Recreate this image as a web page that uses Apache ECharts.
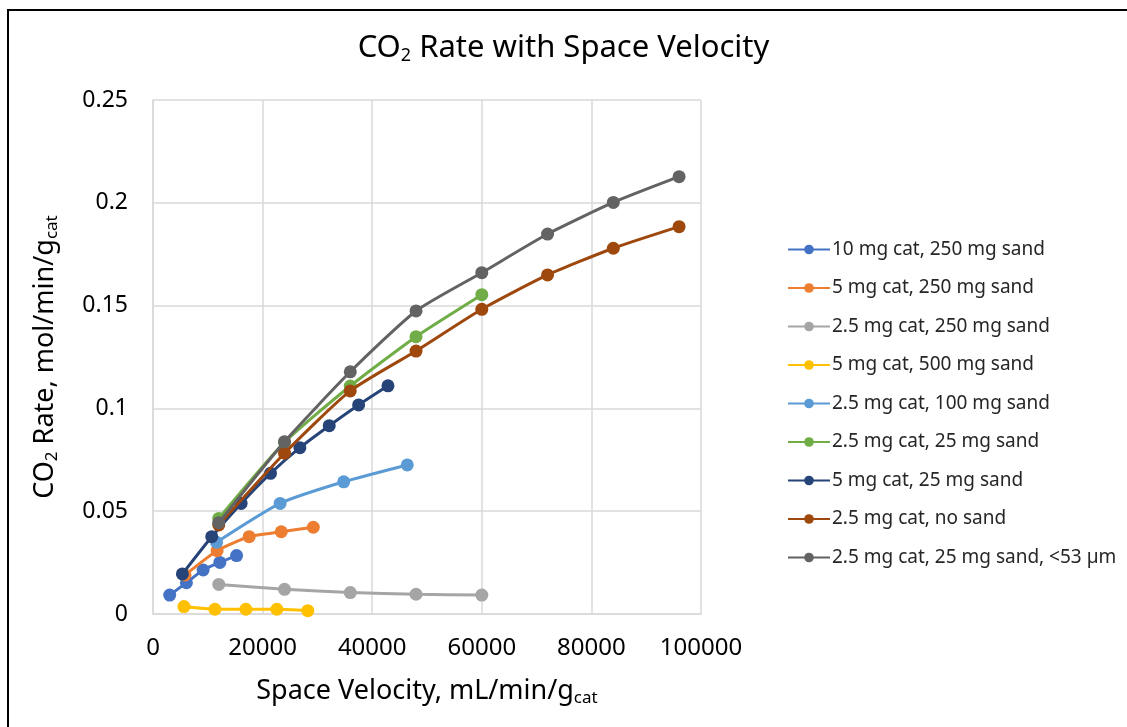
<!DOCTYPE html>
<html>
<head>
<meta charset="utf-8">
<script src="https://cdn.jsdelivr.net/npm/echarts@6/dist/echarts.min.js"></script>
<style>
  html, body { margin: 0; padding: 0; background: #fff; }
  #chart { width: 1127px; height: 727px; }
</style>
</head>
<body>
<div id="chart"></div>
<script>
// Space velocity (mL/min/g_cat) and CO2 rate (mol/min/g_cat) per catalyst bed
const seriesNames = [
  '10 mg cat, 250 mg sand',
  '5 mg cat, 250 mg sand',
  '2.5 mg cat, 250 mg sand',
  '5 mg cat, 500 mg sand',
  '2.5 mg cat, 100 mg sand',
  '2.5 mg cat, 25 mg sand',
  '5 mg cat, 25 mg sand',
  '2.5 mg cat, no sand',
  '2.5 mg cat, 25 mg sand, <53 µm'
];
const seriesColors = ['#4472C4', '#ED7D31', '#A5A5A5', '#FFC000', '#5B9BD5', '#70AD47', '#264478', '#9E480E', '#636363'];

const sv10mg250 = [3050, 6100, 9150, 12200, 15250];
const rate10mg250 = [0.0092, 0.0152, 0.0214, 0.0251, 0.0284];

const sv5mg250 = [5850, 11700, 17550, 23400, 29250];
const rate5mg250 = [0.0190, 0.0308, 0.0376, 0.0400, 0.0422];

const sv25mg250 = [12000, 24000, 36000, 48000, 60000];
const rate25mg250 = [0.0144, 0.0120, 0.0104, 0.0096, 0.0092];

const sv5mg500 = [5650, 11300, 16950, 22600, 28250];
const rate5mg500 = [0.0036, 0.0023, 0.0023, 0.0023, 0.0016];

const sv25mg100 = [11600, 23200, 34800, 46400];
const rate25mg100 = [0.0349, 0.0538, 0.0643, 0.0725];

const sv25mg25 = [12000, 24000, 36000, 48000, 60000];
const rate25mg25 = [0.0465, 0.0835, 0.1109, 0.1349, 0.1553];

const sv5mg25 = [5360, 10720, 16080, 21440, 26800, 32160, 37520, 42880];
const rate5mg25 = [0.0195, 0.0376, 0.0538, 0.0684, 0.0809, 0.0916, 0.1017, 0.1110];

const sv25mgNoSand = [12000, 24000, 36000, 48000, 60000, 72000, 84000, 96000];
const rate25mgNoSand = [0.0433, 0.0782, 0.1085, 0.1279, 0.1482, 0.1649, 0.1779, 0.1884];

const sv25mg25Fine = [12000, 24000, 36000, 48000, 60000, 72000, 84000, 96000];
const rate25mg25Fine = [0.0444, 0.0838, 0.1178, 0.1474, 0.1660, 0.1848, 0.2002, 0.2127];

const xTicks = { min: 0, max: 100000, interval: 20000 };
const yTicks = { min: 0, max: 0.25, interval: 0.05 };

const svSets = [sv10mg250, sv5mg250, sv25mg250, sv5mg500, sv25mg100, sv25mg25, sv5mg25, sv25mgNoSand, sv25mg25Fine];
const rateSets = [rate10mg250, rate5mg250, rate25mg250, rate5mg500, rate25mg100, rate25mg25, rate5mg25, rate25mgNoSand, rate25mg25Fine];

const FONT = 'Noto Sans';

const series = seriesNames.map((name, i) => ({
  name: name,
  type: 'line',
  data: svSets[i].map((x, j) => [x, rateSets[i][j]]),
  smooth: 0.2,
  symbol: 'circle',
  symbolSize: 13,
  showSymbol: true,
  lineStyle: { width: 3, color: seriesColors[i] },
  itemStyle: { color: seriesColors[i] },
  z: 2 + i
}));

const subStyle = (size, pad) => ({ fontFamily: FONT, fontSize: size, padding: [pad, 0, 0, 0], color: '#000000' });

const chart = echarts.init(document.getElementById('chart'));
chart.setOption({
  animation: false,
  backgroundColor: '#ffffff',
  graphic: [{
    type: 'rect',
    shape: { x: 8, y: 10, width: 1300, height: 900 },
    style: { fill: 'none', stroke: '#000000', lineWidth: 2 },
    silent: true
  }],
  title: {
    text: 'CO{sub|2} Rate with Space Velocity',
    left: 'center',
    top: 26,
    textStyle: {
      fontFamily: FONT,
      fontSize: 31,
      fontWeight: 'normal',
      color: '#000000',
      rich: { sub: subStyle(18, 16) }
    }
  },
  legend: {
    orient: 'vertical',
    left: 782,
    top: 235,
    itemWidth: 42,
    itemHeight: 12,
    itemGap: 19.5,
    data: seriesNames,
    textStyle: { fontFamily: FONT, fontSize: 19, color: '#262626', padding: [0, 0, 0, -3] }
  },
  grid: { left: 153, top: 100, width: 548, height: 514, containLabel: false },
  xAxis: {
    type: 'value',
    min: xTicks.min,
    max: xTicks.max,
    interval: xTicks.interval,
    name: 'Space Velocity, mL/min/g{sub|cat}',
    nameLocation: 'middle',
    nameGap: 62,
    nameTextStyle: {
      fontFamily: FONT, fontSize: 27, color: '#000000',
      rich: { sub: subStyle(17, 14) }
    },
    axisLine: { show: true, lineStyle: { color: '#D9D9D9', width: 1.5 } },
    axisTick: { show: false },
    axisLabel: { fontFamily: FONT, fontSize: 24, color: '#000000', margin: 22, formatter: v => String(v) },
    splitLine: { show: true, lineStyle: { color: '#D9D9D9', width: 1.5 } }
  },
  yAxis: {
    type: 'value',
    min: yTicks.min,
    max: yTicks.max,
    interval: yTicks.interval,
    name: 'CO{sub|2} Rate, mol/min/g{sub|cat}',
    nameLocation: 'middle',
    nameGap: 92,
    nameRotate: 90,
    nameTextStyle: {
      fontFamily: FONT, fontSize: 27, color: '#000000',
      rich: { sub: subStyle(17, 14) }
    },
    axisLine: { show: true, lineStyle: { color: '#D9D9D9', width: 1.5 } },
    axisTick: { show: false },
    axisLabel: { fontFamily: FONT, fontSize: 23, color: '#000000', margin: 25, formatter: v => String(v) },
    splitLine: { show: true, lineStyle: { color: '#D9D9D9', width: 1.5 } }
  },
  series: series
});
</script>
</body>
</html>
